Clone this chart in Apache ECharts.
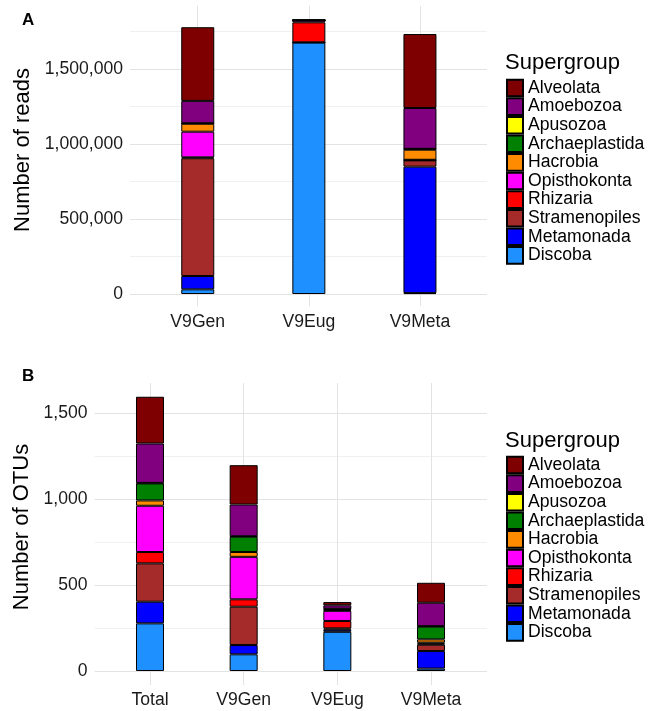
<!DOCTYPE html>
<html>
<head>
<meta charset="utf-8">
<script src="https://cdn.jsdelivr.net/npm/echarts@6/dist/echarts.min.js"></script>
<style>html,body{margin:0;padding:0;background:#fff}#c{width:651px;height:711px}</style>
</head>
<body>
<div id="c"></div>
<script>
// ---- data ----
const groups = ['Alveolata','Amoebozoa','Apusozoa','Archaeplastida','Hacrobia','Opisthokonta','Rhizaria','Stramenopiles','Metamonada','Discoba'];
const readCategories = ['V9Gen','V9Eug','V9Meta'];
const otuCategories = ['Total','V9Gen','V9Eug','V9Meta'];
// values listed in the order of `groups`
const readsV9Gen  = [491000, 149000, 500, 3000, 53000, 171000, 6000, 785000, 89000, 31000];
const readsV9Eug  = [2000, 1000, 0, 1000, 1000, 12000, 133000, 1000, 1000, 1676000];
const readsV9Meta = [493000, 272000, 1000, 5000, 67000, 2000, 2000, 42000, 843000, 6000];
const otusTotal  = [272, 229, 3, 99, 31, 269, 66, 223, 126, 277];
const otusV9Gen  = [229, 184, 3, 89, 28, 247, 43, 223, 54, 97];
const otusV9Eug  = [19, 20, 2, 6, 4, 59, 43, 8, 12, 228];
const otusV9Meta = [116, 136, 3, 74, 19, 6, 6, 37, 102, 14];
const readTicks = [0, 500000, 1000000, 1500000];
const otuTicks = [0, 500, 1000, 1500];

// ---- styles ----
const palette = ['#7f0000','#800080','#ffff00','#008000','#ff8c00','#ff00ff','#ff0000','#a52a2a','#0000ff','#1e90ff'];
const FONT = "'Liberation Sans', Arial, Helvetica, sans-serif";
const TXT = '#1a1a1a';
const readsByCat = [readsV9Gen, readsV9Eug, readsV9Meta];
const otusByCat = [otusTotal, otusV9Gen, otusV9Eug, otusV9Meta];

const chart = echarts.init(document.getElementById('c'), null, {renderer: 'canvas'});

const gridLine = {show: true, showMaxLine: false, lineStyle: {color: ['#e3e3e3', '#f0f0f0'], width: 1}};
function fmt(ticks) {
  return v => ticks.indexOf(v) >= 0 ? v.toLocaleString('en-US') : '';
}
const A_MAX = 1920000, B_MAX = 1675;

const grids = [
  {left: 130, right: 164, top: 6, bottom: 417},      // 0 A background
  {left: 197.7, right: 231, top: 6, bottom: 405},    // 1 A vertical lines
  {left: 142.2, right: 175.5, top: 6, bottom: 417},  // 2 A bars
  {left: 94.5, right: 164, top: 383, bottom: 40},    // 3 B background
  {left: 150, right: 220, top: 383, bottom: 26},     // 4 B vertical lines
  {left: 103.15, right: 173.15, top: 383, bottom: 40}// 5 B bars
];

const xAxes = [
  {gridIndex: 0, type: 'category', data: [''], show: false},
  {gridIndex: 1, type: 'category', data: readCategories, boundaryGap: false, axisLine: {show: false}, axisTick: {show: false}, axisLabel: {show: false}, splitLine: {show: true, lineStyle: {color: '#e3e3e3', width: 1}}},
  {gridIndex: 2, type: 'category', data: readCategories, axisLine: {show: false}, axisTick: {show: false}, splitLine: {show: false}, axisLabel: {color: TXT, fontFamily: FONT, fontSize: 17.6, margin: 19}},
  {gridIndex: 3, type: 'category', data: [''], show: false},
  {gridIndex: 4, type: 'category', data: otuCategories, boundaryGap: false, axisLine: {show: false}, axisTick: {show: false}, axisLabel: {show: false}, splitLine: {show: true, lineStyle: {color: '#e3e3e3', width: 1}}},
  {gridIndex: 5, type: 'category', data: otuCategories, axisLine: {show: false}, axisTick: {show: false}, splitLine: {show: false}, axisLabel: {color: TXT, fontFamily: FONT, fontSize: 17.6, margin: 20}}
];

const yAxes = [
  {gridIndex: 0, type: 'value', min: 0, max: A_MAX, interval: 250000, axisLine: {show: false}, axisTick: {show: false},
   splitLine: gridLine, axisLabel: {formatter: fmt(readTicks), color: TXT, fontFamily: FONT, fontSize: 17.6, margin: 7, showMaxLabel: false},
   name: 'Number of reads', nameLocation: 'middle', nameGap: 91, nameTextStyle: {color: '#000', fontFamily: FONT, fontSize: 22}},
  {gridIndex: 1, type: 'value', min: 0, max: 1, show: false},
  {gridIndex: 2, type: 'value', min: 0, max: A_MAX, show: false},
  {gridIndex: 3, type: 'value', min: 0, max: B_MAX, interval: 250, axisLine: {show: false}, axisTick: {show: false},
   splitLine: gridLine, axisLabel: {formatter: fmt(otuTicks), color: TXT, fontFamily: FONT, fontSize: 17.6, margin: 7, showMaxLabel: false},
   name: 'Number of OTUs', nameLocation: 'middle', nameGap: 56, nameTextStyle: {color: '#000', fontFamily: FONT, fontSize: 22}},
  {gridIndex: 4, type: 'value', min: 0, max: 1, show: false},
  {gridIndex: 5, type: 'value', min: 0, max: B_MAX, show: false}
];

const series = [];
for (let i = groups.length - 1; i >= 0; i--) {
  series.push({
    name: groups[i], type: 'bar', stack: 'reads', xAxisIndex: 2, yAxisIndex: 2, barWidth: 33,
    itemStyle: {color: palette[i], borderColor: '#000', borderWidth: 1},
    data: readsByCat.map(arr => arr[i])
  });
  series.push({
    name: groups[i], type: 'bar', stack: 'otus', xAxisIndex: 5, yAxisIndex: 5, barWidth: 28,
    itemStyle: {color: palette[i], borderColor: '#000', borderWidth: 1},
    data: otusByCat.map(arr => arr[i])
  });
}

const legendBase = {
  data: groups, orient: 'vertical', icon: 'rect', itemWidth: 16, itemHeight: 16.6, itemGap: 0,
  selectedMode: false,
  textStyle: {color: '#000', fontFamily: FONT, fontSize: 17.6, lineHeight: 16.6, padding: [0, 0, 0, 0]},
  padding: 0
};

chart.setOption({
  animation: false,
  backgroundColor: '#fff',
  title: [
    {text: 'A', left: 22, top: 12, textStyle: {fontFamily: FONT, fontSize: 17, fontWeight: 'bold', color: '#000'}, padding: 0},
    {text: 'B', left: 22, top: 368, textStyle: {fontFamily: FONT, fontSize: 17, fontWeight: 'bold', color: '#000'}, padding: 0},
    {text: 'Supergroup', left: 505, top: 52, textStyle: {fontFamily: FONT, fontSize: 22, fontWeight: 'normal', color: '#000'}, padding: 0},
    {text: 'Supergroup', left: 505, top: 430, textStyle: {fontFamily: FONT, fontSize: 22, fontWeight: 'normal', color: '#000'}, padding: 0}
  ],
  legend: [
    Object.assign({}, legendBase, {left: 506, top: 78.7}),
    Object.assign({}, legendBase, {left: 506, top: 455.7})
  ],
  grid: grids,
  xAxis: xAxes,
  yAxis: yAxes,
  series: series
});
</script>
</body>
</html>
